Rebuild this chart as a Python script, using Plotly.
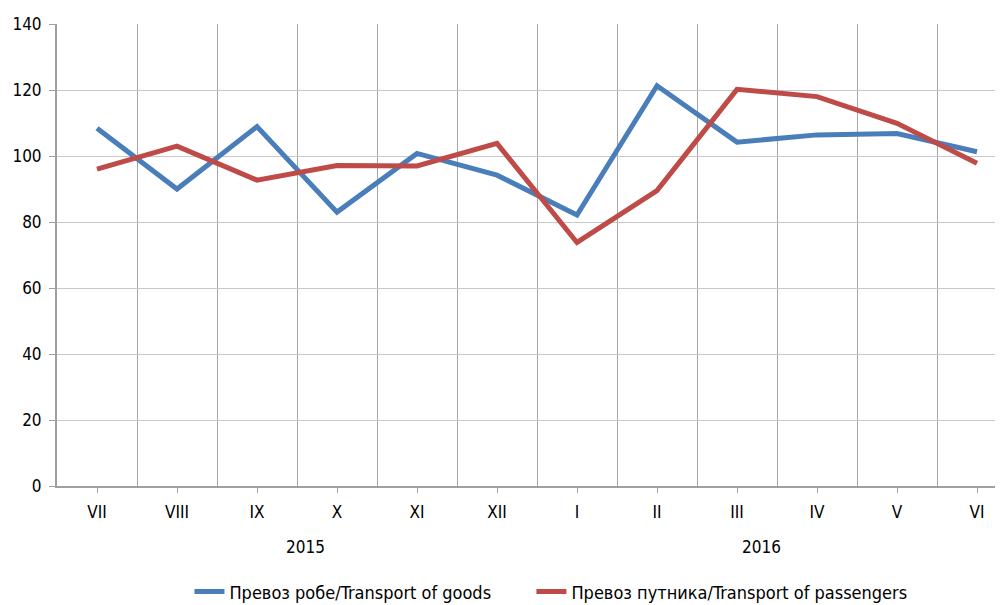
import plotly.graph_objects as go

months = ["VII", "VIII", "IX", "X", "XI", "XII", "I", "II", "III", "IV", "V", "VI"]
goods = [108.4, 90.0, 108.9, 83.0, 100.8, 94.2, 82.1, 121.3, 104.2, 106.4, 106.8, 101.3]
passengers = [96.0, 103.0, 92.7, 97.1, 97.0, 103.8, 73.8, 89.5, 120.2, 118.0, 109.9, 97.8]
years = ["2015", "2016"]
year_pos = [2.6, 8.3]

FONT = "DejaVu Sans Condensed, Liberation Sans Narrow, Liberation Sans, Arial"
x = list(range(len(months)))

fig = go.Figure()
fig.add_trace(go.Scatter(x=x, y=goods, mode="lines", name="Превоз робе/Transport of goods",
                         line=dict(color="#4A7EBB", width=5), legend="legend"))
fig.add_trace(go.Scatter(x=x, y=passengers, mode="lines", name="Превоз путника/Transport of passengers",
                         line=dict(color="#BE4B48", width=5), legend="legend2"))

for yr, xp in zip(years, year_pos):
    fig.add_annotation(x=xp, y=-0.132, xref="x", yref="paper", yanchor="middle", text=yr, showarrow=False,
                       font=dict(family=FONT, size=17, color="#000"))

leg = dict(orientation="h", xanchor="left", yref="container", y=0.022, yanchor="middle",
           font=dict(family=FONT, size=18), bgcolor="rgba(0,0,0,0)")
fig.update_layout(
    width=995, height=597,
    margin=dict(l=49, r=0, t=16, b=119, autoexpand=False),
    paper_bgcolor="white", plot_bgcolor="white",
    font=dict(family=FONT, size=17, color="#000"),
    showlegend=True,
    legend=dict(x=0.14, **leg),
    legend2=dict(x=0.5015, **leg),
)
fig.update_xaxes(
    range=[-0.5, 11.325], tickmode="array", tickvals=x, ticktext=months,
    showgrid=False, zeroline=False, automargin=False,
    showline=True, linecolor="#A0A0A0", linewidth=2,
    ticks="outside", ticklen=5, tickcolor="#A0A0A0", ticklabelstandoff=5,
    minor=dict(tick0=0.5, dtick=1, showgrid=True, gridcolor="#A6A6A6", gridwidth=1, ticks=""),
)
fig.update_yaxes(
    range=[0, 140], tickvals=[0, 20, 40, 60, 80, 100, 120, 140],
    showgrid=True, gridcolor="#C8C8C8", gridwidth=1, zeroline=False, automargin=False,
    showline=True, linecolor="#A0A0A0", linewidth=2,
    ticks="outside", ticklen=6, tickcolor="#A0A0A0", ticklabelstandoff=4,
)

fig.write_html("out.html")
